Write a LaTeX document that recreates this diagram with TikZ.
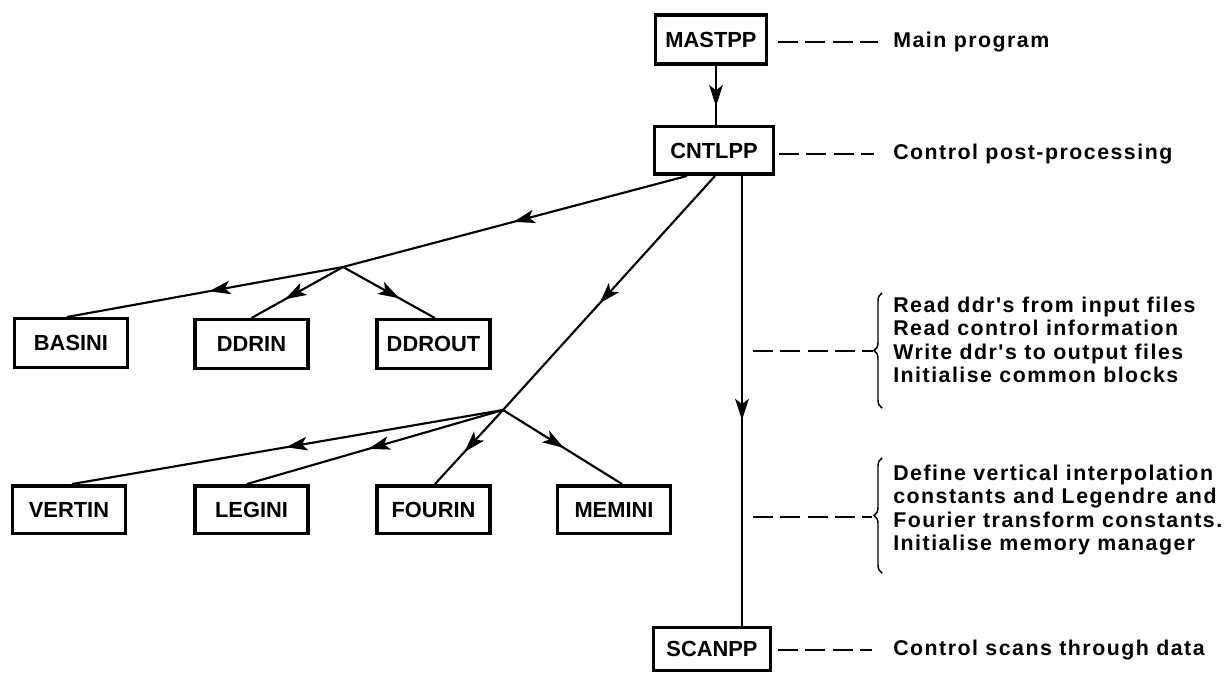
\documentclass[tikz,border=0pt]{standalone}
\usepackage{fontspec}
\setmainfont{Liberation Sans}
\newfontfamily\lblfam{Liberation Sans}[LetterSpace=7]
\usetikzlibrary{arrows.meta,decorations.markings,decorations.pathreplacing}
\newcommand\boxfont{\fontsize{16.4}{18}\selectfont\bfseries}
\newcommand\labfont{\lblfam\fontsize{16}{17.6}\selectfont\bfseries}
\begin{document}
\begin{tikzpicture}[x=0.75pt,y=-0.75pt,
  box/.style={draw,line width=2.6pt,font=\boxfont,inner sep=0pt},
  rowbox/.style={box,minimum width=85pt,minimum height=36.4pt},
  conn/.style={line width=1.6pt},
  marr/.style={postaction={decorate},decoration={markings,mark=at position #1 with {\fill (1pt,0pt) -- (-15pt,5.2pt) -- (-11pt,0pt) -- (-15pt,-5.2pt) -- cycle;}}},
  dashline/.style={line width=1.5pt,dash pattern=on 15pt off 5.5pt},
  lab/.style={anchor=base west,font=\labfont,inner sep=0pt},
  blk/.style={anchor=west,align=left,font=\labfont,inner sep=0pt},
  brc/.style={decorate,decoration={brace,amplitude=6pt},line width=1.1pt}]
\useasboundingbox (0,0) rectangle (1228,677);
% boxes
\node[box,minimum width=83pt,minimum height=37pt] (mast) at (711,39.5) {MASTPP};
\node[box,minimum width=89pt,minimum height=35.6pt] (cntl) at (714,150.5) {CNTLPP};
\node[box,minimum width=87.4pt,minimum height=32.6pt] (scan) at (712,649) {SCANPP};
\node[rowbox] (basini) at (71,343) {BASINI};
\node[rowbox] (ddrin) at (251.5,344) {DDRIN};
\node[rowbox] (ddrout) at (433.5,344) {DDROUT};
\node[rowbox,minimum height=35.6pt] (vertin) at (69,509.5) {VERTIN};
\node[rowbox,minimum height=35.6pt] (legini) at (251.5,509.5) {LEGINI};
\node[rowbox,minimum height=35.6pt] (fourin) at (433.5,509.5) {FOURIN};
\node[rowbox,minimum height=35.6pt] (memini) at (614,509.5) {MEMINI};
% junctions
\coordinate (j1) at (343,267);
\coordinate (j2) at (503,410);
% connectors
\draw[conn,marr=0.66] ([xshift=3.75pt]mast.south) -- ([xshift=3.75pt]mast.south |- cntl.north);
\draw[conn,marr=0.54] ([xshift=21pt]cntl.south) -- ([xshift=21pt]cntl.south |- scan.north);
\draw[conn,marr=0.5] ([xshift=-20.25pt]cntl.south) -- (j1);
\draw[conn,marr=0.48] (j1) -- ([xshift=-3pt]basini.north);
\draw[conn,marr=0.62] (j1) -- (ddrin.north);
\draw[conn,marr=0.6] (j1) -- ([xshift=1pt]ddrout.north);
\draw[conn,marr=0.54] ([xshift=0.75pt]cntl.south) -- (j2);
\draw[conn,marr=0.5] (j2) -- ([xshift=2.25pt]vertin.north);
\draw[conn,marr=0.52] (j2) -- ([xshift=-3.4pt]legini.north);
\draw[conn,marr=0.55] (j2) -- ([xshift=1.1pt]fourin.north);
\draw[conn,marr=0.5] (j2) -- ([xshift=6pt]memini.north);
% right-side labels
\node[lab] (mainlab) at (893,48) {Main program};
\node[lab] (cntllab) at (893,160) {Control post-processing};
\node[lab] (scanlab) at (893,655) {Control scans through data};
\node[blk] (g1) at (893,340) {Read ddr's from input files\\Read control information\\Write ddr's to output files\\Initialise common blocks};
\node[blk] (g2) at (893,510) {Define vertical interpolation\\constants and Legendre and\\Fourier transform constants.\\Initialise memory manager};
% dashes
\draw[dashline] ([xshift=7.5pt,yshift=-1.9pt]mast.east) -- ++(100,0);
\draw[dashline] ([xshift=3pt,yshift=-2.6pt]cntl.east) -- ++(95,0);
\draw[dashline] ([xshift=4.5pt,yshift=-1pt]scan.east) -- ++(94,0);
% braces
\coordinate (b1t) at (882,293);
\coordinate (b1b) at (882,408);
\coordinate (b1tip) at (873,351);
\coordinate (g1s) at (753,351);
\draw[brc] (b1b) -- (b1t);
\draw[dashline] (g1s) -- (b1tip);
\coordinate (b2t) at (882,458);
\coordinate (b2b) at (882,573);
\coordinate (b2tip) at (872,517);
\coordinate (g2s) at (753,517);
\draw[brc] (b2b) -- (b2t);
\draw[dashline] (g2s) -- (b2tip);
\end{tikzpicture}
\end{document}
